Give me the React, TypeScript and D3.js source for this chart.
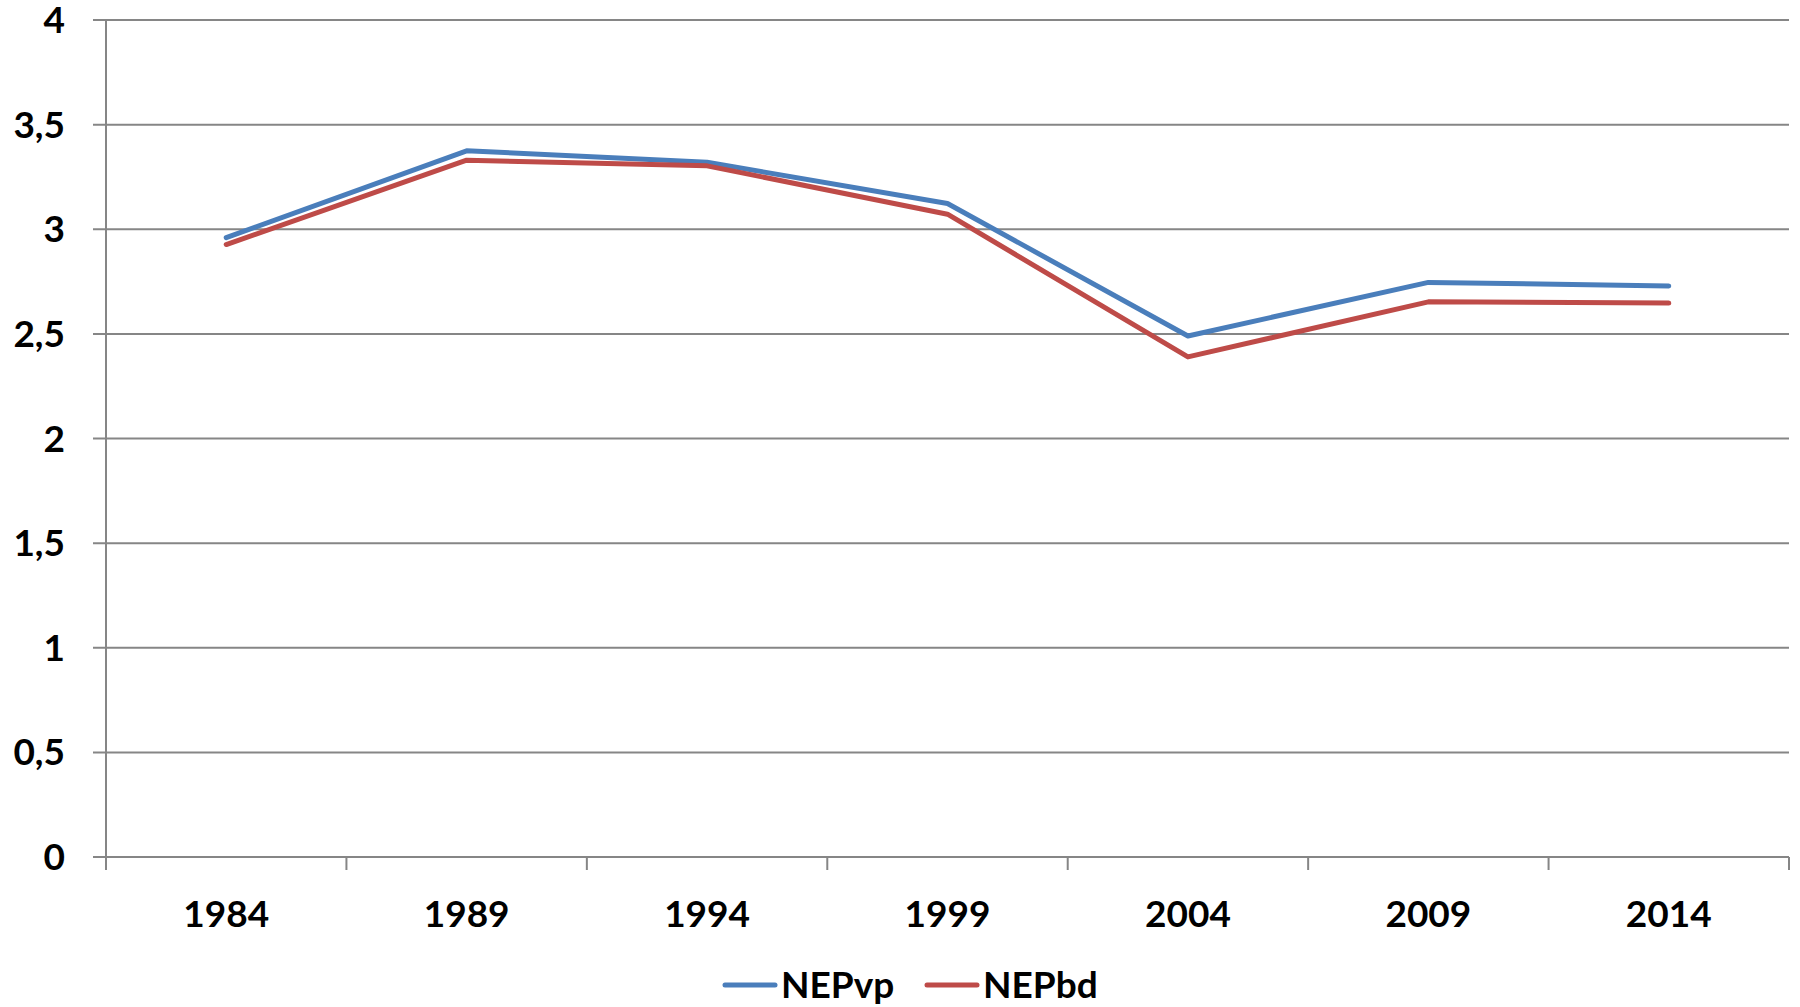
import * as d3 from "d3";
import React, { useRef, useEffect } from "react";

const years = ["1984", "1989", "1994", "1999", "2004", "2009", "2014"];
const nepVp = [2.96, 3.375, 3.32, 3.123, 2.49, 2.746, 2.729];
const nepBd = [2.927, 3.33, 3.303, 3.072, 2.39, 2.653, 2.647];
const yTicks = [0, 0.5, 1, 1.5, 2, 2.5, 3, 3.5, 4];
const yTickLabels = ["0", "0,5", "1", "1,5", "2", "2,5", "3", "3,5", "4"];
const seriesNames = ["NEPvp", "NEPbd"];
const seriesColors = ["#4A7EBB", "#BE4B48"];

const width = 1800;
const height = 1007;
const font = "Lato, 'Open Sans', sans-serif";

export default function App() {
  const ref = useRef<SVGSVGElement>(null);

  useEffect(() => {
    const svg = d3.select(ref.current);
    svg.selectAll("*").remove();

    const x = d3.scaleBand().domain(years).range([106, 1789]);
    const y = d3.scaleLinear().domain([0, 4]).range([857, 20]);
    const grey = "#868686";

    // gridlines
    svg
      .append("g")
      .selectAll("line")
      .data(yTicks)
      .enter()
      .append("line")
      .attr("x1", 93)
      .attr("x2", 1789)
      .attr("y1", d => y(d))
      .attr("y2", d => y(d))
      .attr("stroke", grey)
      .attr("stroke-width", 2);

    // y axis line
    svg
      .append("line")
      .attr("x1", 106)
      .attr("x2", 106)
      .attr("y1", y(4))
      .attr("y2", y(0) + 13)
      .attr("stroke", grey)
      .attr("stroke-width", 2);

    // x ticks at band edges
    const edges = years.map(d => x(d) as number).concat([x.range()[1]]);
    svg
      .append("g")
      .selectAll("line")
      .data(edges)
      .enter()
      .append("line")
      .attr("x1", d => d)
      .attr("x2", d => d)
      .attr("y1", y(0))
      .attr("y2", y(0) + 13)
      .attr("stroke", grey)
      .attr("stroke-width", 2);

    // y labels
    svg
      .append("g")
      .selectAll("text")
      .data(yTicks)
      .enter()
      .append("text")
      .attr("x", 65)
      .attr("y", d => y(d) + 13)
      .attr("text-anchor", "end")
      .attr("font-family", font)
      .attr("font-weight", "bold")
      .attr("font-size", "37px")
      .attr("fill", "#000")
      .text((d, i) => yTickLabels[i]);

    // x labels
    svg
      .append("g")
      .selectAll("text")
      .data(years)
      .enter()
      .append("text")
      .attr("x", d => (x(d) as number) + x.bandwidth() / 2)
      .attr("y", 927)
      .attr("text-anchor", "middle")
      .attr("font-family", font)
      .attr("font-weight", "bold")
      .attr("font-size", "37px")
      .attr("fill", "#000")
      .text(d => d);

    // lines
    const line = d3
      .line<number>()
      .x((d, i) => (x(years[i]) as number) + x.bandwidth() / 2)
      .y(d => y(d));

    [nepVp, nepBd].forEach((s, i) => {
      svg
        .append("path")
        .attr("d", line(s))
        .attr("fill", "none")
        .attr("stroke", seriesColors[i])
        .attr("stroke-width", 5)
        .attr("stroke-linejoin", "round")
        .attr("stroke-linecap", "round");
    });

    // legend
    const legendX = [723, 925];
    const legend = svg
      .append("g")
      .selectAll("g")
      .data(seriesNames)
      .enter()
      .append("g")
      .attr("transform", (d, i) => "translate(" + legendX[i] + ",985)");
    legend
      .append("line")
      .attr("x1", 2)
      .attr("x2", 52)
      .attr("y1", 0)
      .attr("y2", 0)
      .attr("stroke", (d, i) => seriesColors[i])
      .attr("stroke-width", 5)
      .attr("stroke-linecap", "round");
    legend
      .append("text")
      .attr("x", 58)
      .attr("y", 13)
      .attr("font-family", font)
      .attr("font-weight", "bold")
      .attr("font-size", "37px")
      .attr("fill", "#000")
      .text(d => d);
  }, []);

  return (
    <div style={{ position: "absolute", left: 0, top: 0 }}>
      <svg ref={ref} width={width} height={height} style={{ display: "block", background: "#fff" }}></svg>
    </div>
  );
}
